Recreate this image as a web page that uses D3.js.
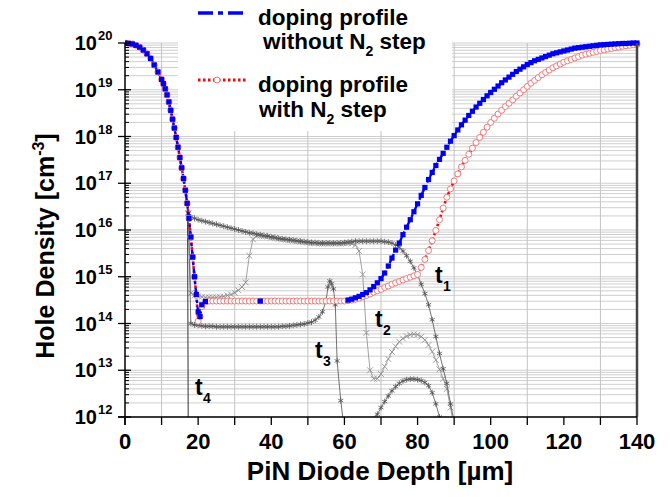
<!DOCTYPE html>
<html>
<head>
<meta charset="utf-8">
<script src="https://cdn.jsdelivr.net/npm/d3@7"></script>
<style>
  body { margin: 0; background: #fff; }
  svg { font-family: "Liberation Sans", Arial, sans-serif; font-weight: bold; }
</style>
</head>
<body>
<svg id="chart" width="670" height="497"></svg>
<script>
// doping profile with N2 step (red circles), log10 of hole density
var redDepth = [0,1,2,3,4,5,6,7,8,9,10,10.5,11,11.5,12,12.5,13,13.5,14,14.5,15,15.5,16,16.5,17,17.5,18,18.5,19,19.5,20,20.5,21,22,
  23,24,25,26,27,28,29,30,31,32,33,34,35,36,37,38,39,40,41,42,43,44,45,46,47,48,49,50,51,52,53,54,55,56,57,58,59,60,
  61,62,63,64,65,66,67,68,69,70,71,72,73,74,75,76,77,78,79,80,81,82,83,84,85,86,87,88,89,90,
  91,92,93,94,95,96,97,98,99,100,101,102,103,104,105,106,107,108,109,110,111,112,113,114,115,116,117,118,119,120,
  121,122,123,124,125,126,127,128,129,130,131,132,133,134,135,136,137,138,139,140];
var redLog = [20.00,19.99,19.98,19.95,19.91,19.85,19.77,19.67,19.53,19.38,19.22,19.13,19.02,18.89,18.74,18.56,18.37,18.18,17.98,17.77,17.55,17.33,17.10,16.85,16.57,16.25,15.85,15.42,15.00,14.60,14.05,14.15,14.36,14.46,
  14.48,14.48,14.48,14.48,14.48,14.48,14.48,14.48,14.48,14.48,14.48,14.48,14.48,14.48,14.48,14.48,14.48,14.48,14.48,14.48,14.48,14.48,14.48,14.48,14.48,14.48,14.48,14.48,14.48,14.48,14.48,14.48,14.48,14.48,14.48,14.48,14.48,14.48,
  14.49,14.50,14.52,14.54,14.57,14.60,14.63,14.67,14.70,14.73,14.77,14.80,14.84,14.87,14.90,14.93,14.96,14.99,15.02,15.05,15.20,15.37,15.56,15.77,15.99,16.22,16.47,16.70,16.88,17.05,
  17.20,17.35,17.49,17.62,17.75,17.87,17.98,18.09,18.20,18.30,18.39,18.48,18.56,18.64,18.71,18.78,18.86,18.93,19.00,19.07,19.14,19.20,19.26,19.32,19.37,19.42,19.47,19.51,19.55,19.59,
  19.62,19.65,19.68,19.71,19.74,19.76,19.78,19.80,19.82,19.84,19.85,19.87,19.88,19.90,19.91,19.93,19.94,19.95,19.96,19.97];

// doping profile without N2 step (blue squares), log10
var blueDepth = [0,1,2,3,4,5,6,7,8,9,10,10.5,11,11.5,12,12.5,13,13.5,14,14.5,15,15.5,16,16.5,17,17.5,18,18.5,19,19.5,20,20.5,21,22,37,
  61,62,63,64,65,66,67,68,69,70,71,72,73,74,75,76,77,78,79,80,81,82,83,84,85,86,87,88,89,90,
  91,92,93,94,95,96,97,98,99,100,101,102,103,104,105,106,107,108,109,110,111,112,113,114,115,116,117,118,119,120,
  121,122,123,124,125,126,127,128,129,130,131,132,133,134,135,136,137,138,139,140];
var blueLog = [20.00,19.99,19.98,19.95,19.91,19.85,19.77,19.67,19.53,19.38,19.22,19.13,19.02,18.89,18.74,18.56,18.37,18.18,17.98,17.77,17.55,17.33,17.10,16.85,16.57,16.25,15.85,15.42,15.00,14.62,14.25,14.15,14.40,14.47,14.48,
  14.50,14.52,14.55,14.58,14.62,14.66,14.72,14.79,14.87,14.96,15.08,15.23,15.40,15.57,15.72,15.90,16.06,16.22,16.39,16.56,16.74,16.91,17.08,17.23,17.38,17.51,17.64,17.77,17.90,18.02,
  18.14,18.25,18.35,18.45,18.54,18.63,18.71,18.79,18.87,18.94,19.01,19.08,19.15,19.21,19.27,19.33,19.39,19.44,19.49,19.54,19.58,19.62,19.65,19.68,19.71,19.74,19.77,19.79,19.81,19.83,
  19.85,19.87,19.89,19.90,19.91,19.92,19.93,19.94,19.95,19.96,19.965,19.97,19.975,19.98,19.985,19.99,19.99,19.995,20.0,20.0];

// hole density at t1 (asterisks)
var t1Depth = [17.3,18,19,20,21,22,23,24,25,26,27,28,29,30,31,32,33,34,35,36,37,38,39,40,41,42,43,44,45,46,47,48,49,50,
  51,52,53,54,55,56,57,58,59,60,61,62,63,64,65,66,67,68,69,70,71,72,73,74,75,76,77,78,79,80,81,82,83,84,85,86,87,88,89,90];
var t1Log = [16.36,16.28,16.25,16.22,16.20,16.18,16.16,16.14,16.12,16.10,16.08,16.06,16.04,16.02,16.00,15.98,15.96,15.94,15.93,15.91,15.90,15.88,15.87,15.85,15.84,15.82,15.81,15.80,15.79,15.78,15.77,15.76,15.75,15.74,
  15.73,15.73,15.72,15.72,15.72,15.72,15.72,15.72,15.72,15.73,15.74,15.75,15.76,15.76,15.76,15.76,15.76,15.76,15.76,15.76,15.75,15.74,15.72,15.68,15.63,15.55,15.45,15.33,15.19,15.04,14.84,14.64,14.40,14.08,13.72,13.36,13.03,12.72,12.28,11.90];

// t2 (crosses)
var t2Depth = [17.3,18,19,20,21,22,23,24,25,26,27,28,29,30,31,32,33,34,35,36,37,38,39,40,41,42,43,44,45,46,47,48,49,50,
  51,52,53,54,55,56,57,58,59,60,61,62,63,64,65,66,67,68,69,70,71,72,73,74,75,76,77,78,79,80,81,82,83,84,85,86,87,88,89,90];
var t2Log = [16.36,14.65,14.60,14.58,14.57,14.56,14.56,14.56,14.56,14.57,14.58,14.60,14.62,14.66,14.71,14.78,14.88,15.45,15.80,15.88,15.88,15.87,15.86,15.84,15.83,15.81,15.80,15.79,15.78,15.77,15.76,15.75,15.74,15.73,
  15.72,15.72,15.71,15.71,15.71,15.71,15.71,15.71,15.71,15.72,15.72,15.71,15.68,15.55,15.05,13.80,13.00,12.82,12.82,12.92,13.08,13.24,13.39,13.51,13.61,13.68,13.73,13.76,13.77,13.76,13.72,13.65,13.54,13.40,13.22,13.02,12.82,12.60,12.20,11.80];

// t3 (asterisks), front part and the hump behind the peak
var t3Depth = [17.3,18,19,20,21,22,23,24,25,26,27,28,29,30,31,32,33,34,35,36,37,38,39,40,41,42,43,44,45,46,47,48,49,50,
  51,52,53,54,55,55.5,56,56.5,57,57.5,58,59,60];
var t3Log = [16.36,14.00,13.97,13.96,13.95,13.94,13.94,13.94,13.93,13.93,13.93,13.93,13.93,13.93,13.93,13.93,13.93,13.93,13.93,13.93,13.93,13.93,13.93,13.93,13.93,13.93,13.94,13.94,13.95,13.96,13.97,13.98,13.99,14.01,
  14.03,14.07,14.14,14.25,14.50,14.78,14.91,14.85,14.74,14.40,13.20,12.35,11.70];
var humpDepth = [67,68,69,70,71,72,73,74,75,76,77,78,79,80,81,82,83,84,85,86,87];
var humpLog = [11.80,11.95,12.06,12.20,12.33,12.45,12.56,12.65,12.72,12.77,12.80,12.81,12.81,12.80,12.78,12.74,12.67,12.52,12.28,12.00,11.70];

// t4 (plain line)
var t4Depth = [17.1, 17.3];
var t4Log = [16.6, 11.5];

var xTicks = [0,20,40,60,80,100,120,140];
var xMinor = [10,30,50,70,90,110,130];
var yExp = [12,13,14,15,16,17,18,19,20];

var svg = d3.select("#chart");
var x = d3.scaleLinear().domain([0,140]).range([125,637]);
var y = d3.scaleLog().domain([1e12,1e20]).range([417,43]);
function py(v){ return y(Math.pow(10, v)); }
function pts(dep, lg){ return dep.map(function(d,i){ return [d, lg[i]]; }); }

svg.append("clipPath").attr("id","plot")
  .append("rect").attr("x",125).attr("y",30).attr("width",520).attr("height",387);

// grid
var grid = svg.append("g");
yExp.forEach(function(e){
  for (var k = 1; k <= 9; k++) {
    if (e == 20 && k > 1) break;
    var yy = y(k * Math.pow(10, e));
    grid.append("line").attr("x1",125).attr("x2",637).attr("y1",yy).attr("y2",yy)
      .attr("stroke","#cfcfcf").attr("stroke-width",1);
  }
});
xMinor.forEach(function(d){
  grid.append("line").attr("x1",x(d)).attr("x2",x(d)).attr("y1",43).attr("y2",417)
    .attr("stroke","#c4c4c4").attr("stroke-width",1);
});

// legend background
svg.append("rect").attr("x",178).attr("y",0).attr("width",274).attr("height",131).attr("fill","#fff");

var g = svg.append("g").attr("clip-path","url(#plot)");
var line = d3.line().x(function(d){ return x(d[0]); }).y(function(d){ return py(d[1]); });

// time curves
function tCurve(data, col, sym){
  g.append("path").attr("d", line(data)).attr("fill","none").attr("stroke",col).attr("stroke-width",0.8);
  g.selectAll(null).data(data).enter().append("path")
    .attr("transform", function(d){ return "translate(" + x(d[0]) + "," + py(d[1]) + ")"; })
    .attr("d", d3.symbol().type(sym).size(24))
    .attr("fill","none").attr("stroke",col).attr("stroke-width",0.8);
}
g.append("path").attr("d", line(pts(t4Depth,t4Log))).attr("fill","none").attr("stroke","#333").attr("stroke-width",1);
tCurve(pts(t2Depth,t2Log), "#8a8a8a", d3.symbolTimes);
tCurve(pts(t1Depth,t1Log), "#505050", d3.symbolAsterisk);
tCurve(pts(t3Depth,t3Log), "#505050", d3.symbolAsterisk);
tCurve(pts(humpDepth,humpLog), "#505050", d3.symbolAsterisk);

// doping profiles
var red = pts(redDepth, redLog), blue = pts(blueDepth, blueLog);
g.append("path").attr("d", line(red)).attr("fill","none").attr("stroke","#ff0000")
  .attr("stroke-width",2.6).attr("stroke-dasharray","2.4,2.4");
g.append("path").attr("d", line(blue)).attr("fill","none").attr("stroke","#0000ff")
  .attr("stroke-width",2.4).attr("stroke-dasharray","10,3,3,3");
g.selectAll(".rc").data(red).enter().append("circle").attr("class","rc")
  .attr("cx", function(d){ return x(d[0]); }).attr("cy", function(d){ return py(d[1]); })
  .attr("r",3).attr("fill","#fff").attr("stroke","#f07a7a").attr("stroke-width",1);
g.selectAll(".bs").data(blue).enter().append("rect").attr("class","bs")
  .attr("x", function(d){ return x(d[0]) - 2.6; }).attr("y", function(d){ return py(d[1]) - 2.6; })
  .attr("width",5.2).attr("height",5.2).attr("fill","#0000f0");

// axes
svg.append("line").attr("x1",637).attr("x2",637).attr("y1",43).attr("y2",417).attr("stroke","#444").attr("stroke-width",2.5);
svg.append("line").attr("x1",118).attr("x2",637).attr("y1",417).attr("y2",417).attr("stroke","#000").attr("stroke-width",1.5);
svg.append("line").attr("x1",125).attr("x2",125).attr("y1",43).attr("y2",425).attr("stroke","#000").attr("stroke-width",1.5);

xTicks.concat(xMinor).forEach(function(d){
  svg.append("line").attr("x1",x(d)).attr("x2",x(d)).attr("y1",417).attr("y2",425).attr("stroke","#000").attr("stroke-width",1.3);
});
svg.selectAll(".xl").data(xTicks).enter().append("text").attr("class","xl")
  .attr("x", function(d){ return x(d); }).attr("y",449).attr("text-anchor","middle")
  .attr("font-size",22).text(function(d){ return d; });

yExp.forEach(function(e){
  var yy = y(Math.pow(10,e));
  svg.append("line").attr("x1",118).attr("x2",131).attr("y1",yy).attr("y2",yy).attr("stroke","#000").attr("stroke-width",1.3);
  if (e < 20) for (var k = 2; k <= 9; k++) {
    var ym = y(k*Math.pow(10,e));
    svg.append("line").attr("x1",125).attr("x2",129).attr("y1",ym).attr("y2",ym).attr("stroke","#000").attr("stroke-width",1);
  }
  svg.append("text").attr("x",97).attr("y",yy+7).attr("text-anchor","end").attr("font-size",20).text("10");
  svg.append("text").attr("x",98).attr("y",yy-3).attr("font-size",13).text(e);
});

// axis titles
svg.append("text").attr("x",380).attr("y",480).attr("text-anchor","middle").attr("font-size",26)
  .text("PiN Diode Depth [\u00b5m]");
var yt = svg.append("text").attr("transform","translate(54,246) rotate(-90)").attr("text-anchor","middle").attr("font-size",25);
yt.append("tspan").text("Hole Density [cm");
yt.append("tspan").attr("font-size",16).attr("dy",-10).text("-3");
yt.append("tspan").attr("dy",10).text("]");

// time labels
var tLabels = [["1",435,283],["2",375,327],["3",315,358],["4",195,395]];
tLabels.forEach(function(t){
  svg.append("text").attr("x",t[1]).attr("y",t[2]).attr("font-size",23).text("t");
  svg.append("text").attr("x",t[1]+8).attr("y",t[2]+8).attr("font-size",14).text(t[0]);
});

// legend
var lg = svg.append("g");
lg.append("line").attr("x1",198).attr("x2",248).attr("y1",13).attr("y2",13).attr("stroke","#0000ff")
  .attr("stroke-width",3.5).attr("stroke-dasharray","15,5,5,5");
lg.append("line").attr("x1",198).attr("x2",248).attr("y1",80).attr("y2",80).attr("stroke","#ff0000")
  .attr("stroke-width",3).attr("stroke-dasharray","2.5,2.5");
lg.append("circle").attr("cx",217).attr("cy",80).attr("r",3).attr("fill","#fff").attr("stroke","#f07a7a").attr("stroke-width",1);
function legText(xx, yy, a, b){
  var t = lg.append("text").attr("x",xx).attr("y",yy).attr("font-size",22.5);
  t.append("tspan").text(a);
  if (b !== undefined) {
    t.append("tspan").attr("font-size",14).attr("dy",7).text("2");
    t.append("tspan").attr("dy",-7).text(b);
  }
}
legText(258, 25, "doping profile");
legText(263, 49, "without N", " step");
legText(258, 92, "doping profile");
legText(259, 117, "with N", " step");
</script>
</body>
</html>
